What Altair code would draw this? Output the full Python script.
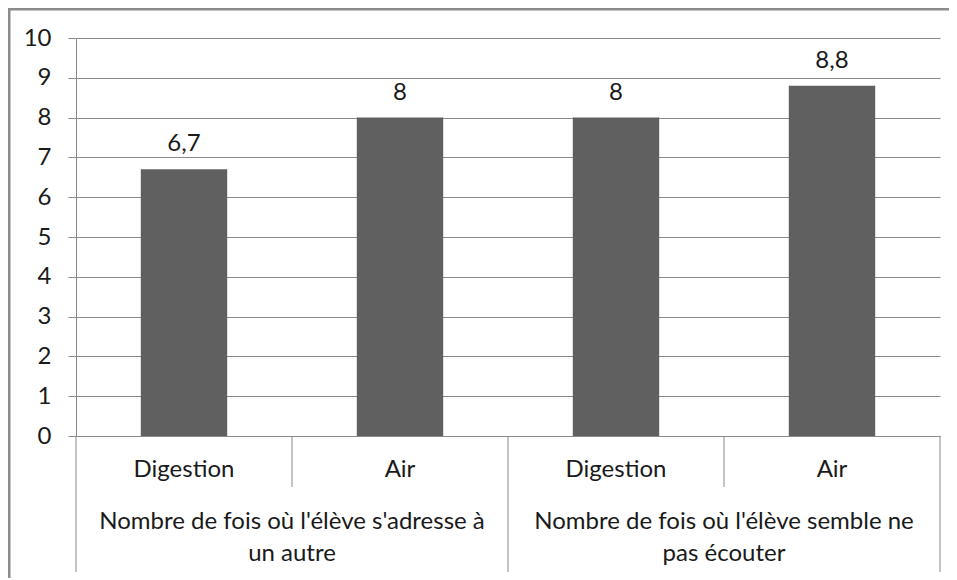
import altair as alt
import pandas as pd

# Data
cat_ids = ["g1_digestion", "g1_air", "g2_digestion", "g2_air"]
sub_labels = ["Digestion", "Air", "Digestion", "Air"]
values = [6.7, 8, 8, 8.8]
value_labels = ["6,7", "8", "8", "8,8"]
group_labels = [
    "Nombre de fois où l'élève s'adresse à\nun autre",
    "Nombre de fois où l'élève semble ne\npas écouter",
]
group_first_cat = ["g1_digestion", "g2_digestion"]
group_starts = [True, False, True, False]
y_ticks = list(range(0, 11))

FONT = "Lato"
FS = 24
GRAY = "#8a8a8a"
BAR = "#606060"
TXT = "#1a1a1a"
W, H = 864, 398
PAD_BOTTOM = 142
HALF = W / len(cat_ids) / 2

df = pd.DataFrame({"cat": cat_ids, "sub": sub_labels, "value": values, "label": value_labels})
df_groups = pd.DataFrame({"cat": group_first_cat, "group": group_labels})
df_sep = pd.DataFrame({"cat": cat_ids, "start": group_starts})
df_short = df_sep[~df_sep["start"]]
df_long = df_sep[df_sep["start"]]
df_last = pd.DataFrame({"cat": [cat_ids[-1]]})
df_one = pd.DataFrame({"k": [0]})

xscale = alt.Scale(domain=cat_ids, paddingInner=0.6, paddingOuter=0.3)
x_enc = alt.X("cat:N", scale=xscale,
              axis=alt.Axis(labels=False, ticks=False, title=None, domain=True,
                            domainColor=GRAY, domainWidth=1))
y_enc = alt.Y("value:Q", scale=alt.Scale(domain=[0, 10], nice=False),
              axis=alt.Axis(values=y_ticks, title=None, grid=True, gridColor=GRAY,
                            domainColor=GRAY, tickColor=GRAY, tickSize=8,
                            labelOverlap=False, labelFont=FONT, labelFontSize=FS,
                            labelColor=TXT, labelPadding=17))

bars = alt.Chart(df).mark_bar(color=BAR).encode(x=x_enc, y=y_enc)

bar_text = alt.Chart(df).mark_text(font=FONT, fontSize=FS, color=TXT,
                                   baseline="alphabetic", dy=-18).encode(
    x=x_enc, y=y_enc, text="label:N")

sub_text = alt.Chart(df).mark_text(font=FONT, fontSize=FS, color=TXT,
                                   baseline="middle").encode(
    x=x_enc, y=alt.value(H + 34), text="sub:N")

group_text = alt.Chart(df_groups).mark_text(font=FONT, fontSize=FS, color=TXT,
                                            baseline="middle", lineBreak="\n",
                                            lineHeight=32, xOffset=HALF).encode(
    x=x_enc, y=alt.value(H + 86), text="group:N")

short_rules = alt.Chart(df_short).mark_rule(color=GRAY, xOffset=-HALF).encode(
    x=x_enc, y=alt.value(H), y2=alt.value(H + 51))
long_rules = alt.Chart(df_long).mark_rule(color=GRAY, xOffset=-HALF).encode(
    x=x_enc, y=alt.value(H), y2=alt.value(H + 136))
last_rule = alt.Chart(df_last).mark_rule(color=GRAY, xOffset=HALF).encode(
    x=x_enc, y=alt.value(H), y2=alt.value(H + 136))

border_top = alt.Chart(df_one).mark_rule(color="#8c8c8c", strokeWidth=3).encode(
    x=alt.value(-68), x2=alt.value(W + 9), y=alt.value(-29))
border_left = alt.Chart(df_one).mark_rect(color="#8c8c8c", strokeWidth=0).encode(
    x=alt.value(-68), x2=alt.value(-65.5), y=alt.value(-30), y2=alt.value(H + PAD_BOTTOM))

chart = alt.layer(bars, bar_text, sub_text, group_text, short_rules, long_rules,
                  last_rule, border_top, border_left).properties(
    width=W, height=H,
    padding={"left": 68, "top": 30, "right": 9, "bottom": PAD_BOTTOM},
    autosize=alt.AutoSizeParams(type="none"),
).configure_view(stroke=None, strokeWidth=0)

chart.save("out.html", embed_options={"renderer": "svg", "actions": False})
